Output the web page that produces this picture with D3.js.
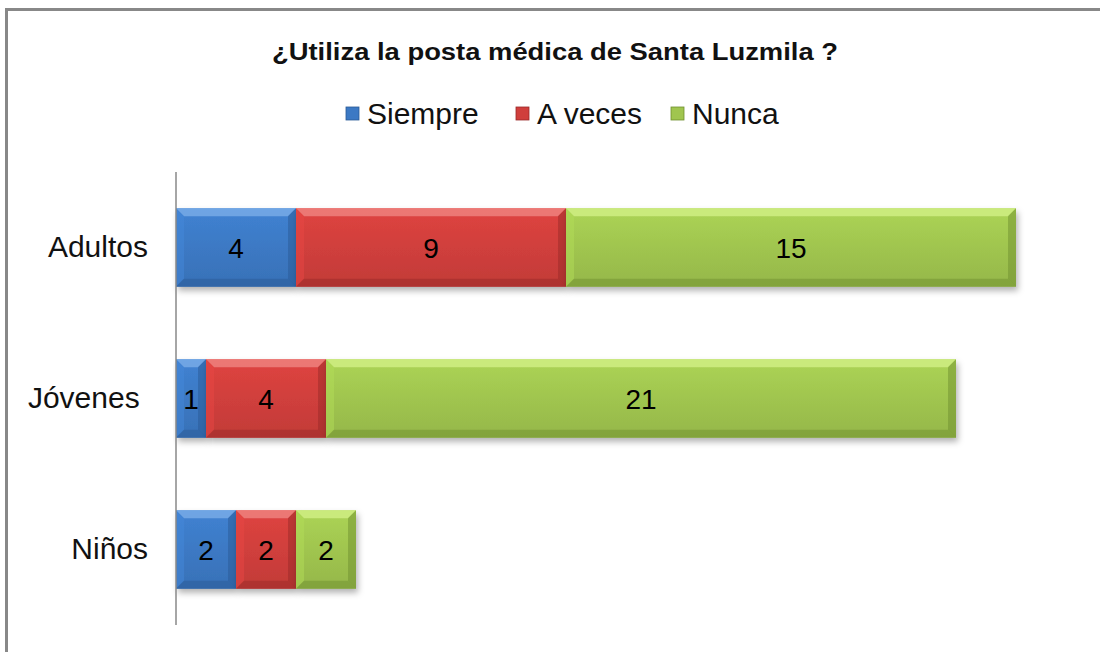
<html>
<head>
<style>
  body { margin: 0; background: #fff; overflow: hidden; }
  svg { display: block; font-family: "Liberation Sans", Arial, sans-serif; }
</style>
</head>
<body>
<svg></svg>
<script src="https://d3js.org/d3.v7.min.js"></script>
<script>
// chart values
const categories = ["Adultos", "Jóvenes ", "Niños"];
const seriesNames = ["Siempre", "A veces", "Nunca"];
const siempre = [4, 1, 2];
const aVeces = [9, 4, 2];
const nunca = [15, 21, 2];
const colors = ["#3c79c4", "#d03f3c", "#a0c54f"];
const lightColors = ["#7fb0ea", "#f08a86", "#d4f28a"];
const darkColors = ["#2a5a96", "#9a2a28", "#6f8f2f"];

const width = 1100, height = 652;
const svg = d3.select("svg").attr("width", width).attr("height", height);

// frame (only top and left edges are in view)
svg.append("path").attr("d", "M6.5,652V9.5H1100")
  .attr("fill", "none").attr("stroke", "#888").attr("stroke-width", 3);

svg.append("text").attr("x", 555).attr("y", 60).attr("text-anchor", "middle")
  .attr("font-size", 23).attr("font-weight", "bold").attr("fill", "#111")
  .attr("textLength", 566).attr("lengthAdjust", "spacingAndGlyphs")
  .text("¿Utiliza la posta médica de Santa Luzmila ?");

const margin = {top: 172, left: 176};
const plotH = 453;
const x = d3.scaleLinear().domain([0, 28]).range([margin.left, 1016]);
const y = d3.scaleBand().domain(categories).range([margin.top, margin.top + plotH]).paddingInner(0.48).paddingOuter(0.24);

const defs = svg.append("defs");
colors.forEach(function(c, i) {
  const g = defs.append("linearGradient").attr("id", "grad" + i)
    .attr("x1", 0).attr("y1", 0).attr("x2", 0).attr("y2", 1);
  g.append("stop").attr("offset", "0%").attr("stop-color", d3.color(c).brighter(0.2));
  g.append("stop").attr("offset", "50%").attr("stop-color", c);
  g.append("stop").attr("offset", "100%").attr("stop-color", d3.color(c).darker(0.2));
});
const shadow = defs.append("filter").attr("id", "shadow").attr("x", "-10%").attr("y", "-10%").attr("width", "130%").attr("height", "140%");
shadow.append("feDropShadow").attr("dx", 2).attr("dy", 4).attr("stdDeviation", 3).attr("flood-color", "#000").attr("flood-opacity", 0.3);

// build stacked table
const table = categories.map(function(cat, i) {
  return {cat: cat, Siempre: siempre[i], "A veces": aVeces[i], Nunca: nunca[i]};
});
const stack = d3.stack().keys(seriesNames)(table);

const bev = 8;
const layers = svg.append("g").selectAll("g").data(stack).join("g");
const segs = layers.selectAll("g").data(function(s, si) {
  return s.map(function(d) { return {si: si, x0: d[0], x1: d[1], cat: d.data.cat}; });
}).join("g");

// shadow + body
segs.append("rect")
  .attr("x", function(d) { return x(d.x0); })
  .attr("y", function(d) { return y(d.cat); })
  .attr("width", function(d) { return x(d.x1) - x(d.x0); })
  .attr("height", y.bandwidth())
  .attr("fill", function(d) { return "url(#grad" + d.si + ")"; })
  .attr("filter", "url(#shadow)");

// bevel edges
segs.each(function(d) {
  const g = d3.select(this);
  const x0 = x(d.x0), x1 = x(d.x1), y0 = y(d.cat), y1 = y0 + y.bandwidth();
  // top
  g.append("polygon").attr("points", [[x0, y0], [x1, y0], [x1 - bev, y0 + bev], [x0 + bev, y0 + bev]].join(" "))
    .attr("fill", lightColors[d.si]).attr("opacity", 0.75);
  // left
  g.append("polygon").attr("points", [[x0, y0], [x0 + bev, y0 + bev], [x0 + bev, y1 - bev], [x0, y1]].join(" "))
    .attr("fill", d3.color(colors[d.si]).brighter(0.3)).attr("opacity", 0.5);
  // right
  g.append("polygon").attr("points", [[x1, y0], [x1, y1], [x1 - bev, y1 - bev], [x1 - bev, y0 + bev]].join(" "))
    .attr("fill", darkColors[d.si]).attr("opacity", 0.5);
  // bottom
  g.append("polygon").attr("points", [[x0, y1], [x1, y1], [x1 - bev, y1 - bev], [x0 + bev, y1 - bev]].join(" "))
    .attr("fill", darkColors[d.si]).attr("opacity", 0.5);
});

// value labels
segs.append("text")
  .attr("x", function(d) { return (x(d.x0) + x(d.x1)) / 2; })
  .attr("y", function(d) { return y(d.cat) + y.bandwidth() / 2; })
  .attr("dy", "0.36em").attr("text-anchor", "middle")
  .attr("font-size", 28).attr("fill", "#000")
  .text(function(d) { return d.x1 - d.x0; });

// category axis
const axis = svg.append("g").attr("transform", "translate(" + margin.left + ",0)")
  .call(d3.axisLeft(y).tickSize(0).tickPadding(28));
axis.select(".domain").attr("stroke", "#888").attr("stroke-width", 1.5)
  .attr("d", "M0," + margin.top + "V" + (margin.top + plotH));
axis.selectAll("text").attr("font-size", 30).attr("fill", "#111")
  .attr("font-family", "Liberation Sans, Arial, sans-serif").style("white-space", "pre");

// legend
const legendX = [346, 516, 671];
const legend = svg.append("g").selectAll("g").data(seriesNames).join("g")
  .attr("transform", function(d, i) { return "translate(" + legendX[i] + ",113)"; });
legend.append("rect").attr("x", 0).attr("y", -6).attr("width", 13).attr("height", 13)
  .attr("fill", function(d, i) { return colors[i]; })
  .attr("stroke", function(d, i) { return darkColors[i]; }).attr("stroke-width", 0.8);
legend.append("text").attr("x", 21).attr("dy", "0.36em").attr("font-size", 30).attr("fill", "#111")
  .text(function(d) { return d; });
</script>
</body>
</html>
